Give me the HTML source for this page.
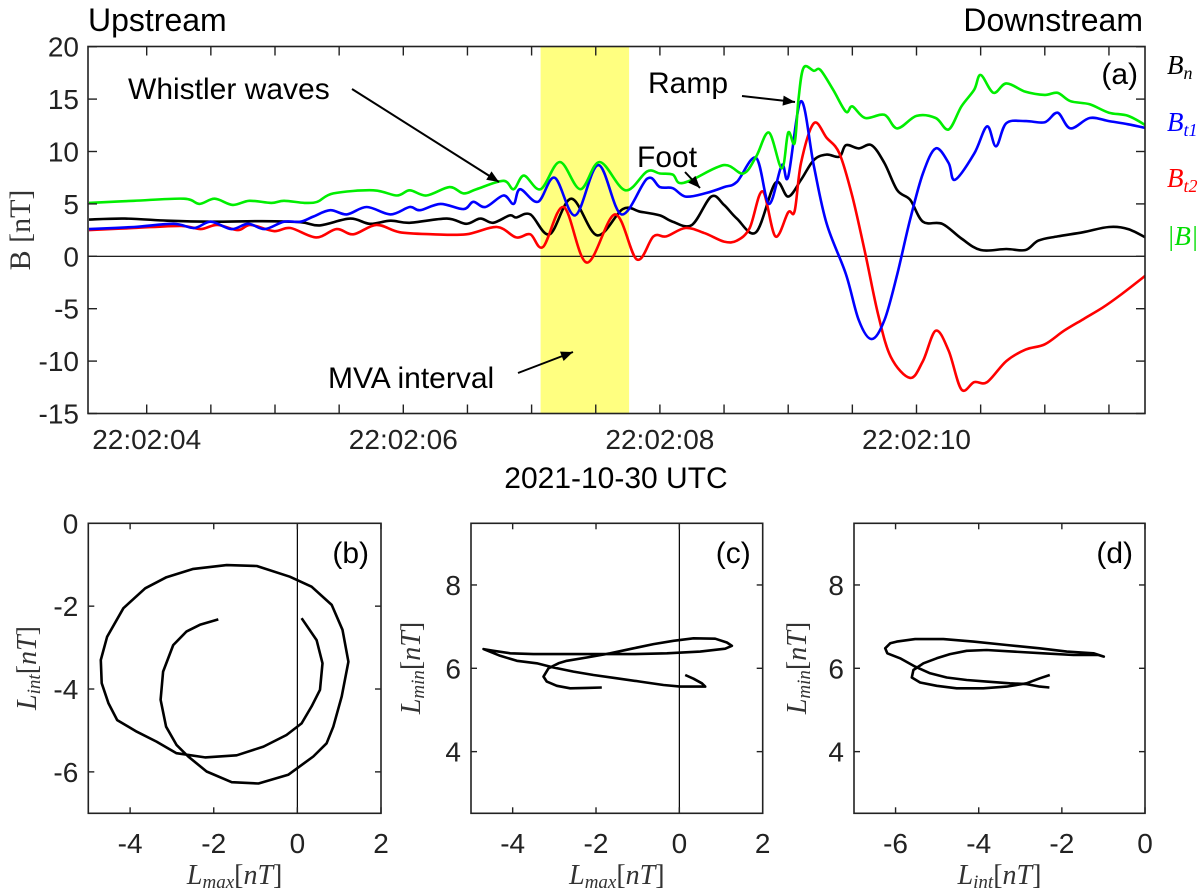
<!DOCTYPE html>
<html><head><meta charset="utf-8"><style>
html,body{margin:0;padding:0;background:#fff;}
svg{display:block;font-family:"Liberation Sans",Arial,sans-serif;}
.tk{font-size:28px;fill:#222;}
.ser{font-family:"Liberation Serif","DejaVu Serif",serif;}
</style></head><body>
<svg id="fig" width="1200" height="888" viewBox="0 0 1200 888" xmlns="http://www.w3.org/2000/svg">
<g id="top"></g>
<g id="pb"></g>
<g id="pc"></g>
<g id="pd"></g>
</svg>
<script>
// ---- Panel (a) data: time in seconds after 22:02:00, values in nT ----
const bnT=[3.55,3.83,4.16,4.5,4.9,5.2,5.35,5.585,5.74,5.9,6.05,6.34,6.49,6.6,6.7,6.83,6.88,6.99,7.14,7.31,7.51,7.71,7.85,8.0,8.1,8.25,8.4,8.5,8.6,8.75,8.9,9.0,9.1,9.2,9.3,9.4,9.45,9.55,9.65,9.75,9.85,9.95,10.05,10.2,10.35,10.5,10.7,10.85,10.95,11.1,11.3,11.5,11.65,11.8];
const bnV=[3.5,3.6,3.4,3.3,3.35,3.25,2.95,3.6,3.1,3.4,3.2,3.6,3.1,3.6,3.2,3.9,3.7,4.0,2.1,5.5,2.0,4.5,4.25,3.9,3.3,3.0,5.7,4.9,3.6,2.3,7.0,5.7,7.3,9.2,9.7,9.5,10.6,10.3,10.6,8.9,6.3,5.4,3.3,3.1,1.7,0.6,0.7,0.6,1.5,1.9,2.3,2.8,2.6,1.7];
const bt1T=[3.55,3.9,4.21,4.37,4.5,4.66,4.79,4.92,5.07,5.2,5.3,5.43,5.56,5.715,5.9,6.05,6.13,6.29,6.47,6.545,6.64,6.78,6.86,6.91,7.05,7.18,7.34,7.52,7.7,7.9,8.0,8.1,8.2,8.35,8.5,8.6,8.75,8.85,8.95,9.0,9.1,9.2,9.3,9.45,9.55,9.65,9.75,9.85,9.95,10.05,10.15,10.25,10.3,10.45,10.55,10.62,10.7,10.85,11.0,11.1,11.2,11.35,11.5,11.65,11.8];
const bt1V=[2.6,2.8,3.1,2.7,3.3,2.6,3.1,2.6,3.3,3.3,3.8,4.4,4.0,4.7,4.0,4.7,4.4,5.0,4.5,5.2,4.7,5.8,5.0,6.4,5.2,7.5,3.9,8.7,4.0,7.4,6.6,6.5,5.7,6.0,6.6,7.1,9.4,5.0,8.7,7.6,14.8,8.6,3.1,-1.7,-6.1,-7.9,-6.1,-1.7,3.5,7.9,10.3,8.9,7.3,9.8,12.4,10.5,12.7,12.9,12.8,13.7,12.2,13.2,12.9,12.6,12.2];
const bt2T=[3.55,3.9,4.27,4.42,4.55,4.71,4.81,4.99,5.12,5.32,5.48,5.61,5.79,5.97,6.23,6.49,6.73,6.88,6.99,7.09,7.25,7.43,7.65,7.82,7.95,8.05,8.2,8.35,8.5,8.6,8.7,8.8,8.9,9.0,9.05,9.1,9.2,9.3,9.4,9.5,9.6,9.7,9.8,9.95,10.05,10.15,10.25,10.35,10.45,10.55,10.7,10.85,11.0,11.15,11.3,11.45,11.6,11.8];
const bt2V=[2.5,2.7,2.9,2.6,3.0,2.5,3.0,2.4,2.7,1.8,2.6,2.1,3.0,2.3,2.1,2.1,2.8,1.8,2.1,0.9,4.7,-0.6,4.0,-0.3,1.9,1.9,2.7,2.2,1.4,1.5,2.7,6.2,1.9,4.2,4.3,8.9,12.7,11.3,9.8,5.7,0.3,-5.5,-9.6,-11.6,-10,-7.1,-9,-12.7,-12.0,-12.0,-10,-8.9,-8.4,-7.1,-6.0,-4.9,-3.6,-1.7];
const bmT=[3.55,3.9,4.29,4.41,4.53,4.67,4.8,4.97,5.07,5.23,5.33,5.455,5.766,5.95,6.05,6.18,6.36,6.47,6.57,6.78,6.86,6.94,7.07,7.22,7.38,7.53,7.73,7.9,8.0,8.1,8.15,8.25,8.5,8.65,8.75,8.85,8.95,9.0,9.05,9.08,9.12,9.2,9.25,9.35,9.45,9.5,9.6,9.75,9.85,10.0,10.15,10.25,10.35,10.45,10.5,10.6,10.7,10.85,11.0,11.1,11.2,11.35,11.5,11.65,11.8];
const bmV=[5.1,5.3,5.5,5.0,5.5,4.9,5.3,5.1,5.3,5.1,5.2,6.0,6.3,5.8,6.3,5.8,6.6,6.0,6.4,7.2,6.4,7.7,6.4,9.0,6.4,9.0,6.3,8.1,7.9,7.8,7.0,7.3,8.7,7.9,9.5,11.8,8.4,11.8,10.8,15,18,17.7,17.8,15.9,13.8,14.3,13.2,13.5,12.2,13.4,13.2,12.1,14.3,15.9,17.3,15.6,16.5,15.7,15.4,15.6,14.8,14.5,13.7,13.4,12.4];
const yTicksA=[20,15,10,5,0,-5,-10,-15];
const xLabelT=[4,6,8,10];
const xLabelTxt=["22:02:04","22:02:06","22:02:08","22:02:10"];
const mvaStart=7.07, mvaEnd=7.76;
// ---- Hodograms ----
const bX=[-1.89,-2.33,-2.65,-2.97,-3.21,-3.27,-3.14,-2.89,-2.61,-2.17,-1.57,-0.93,-0.22,0.38,0.70,0.86,1.06,1.22,1.08,0.82,0.34,-0.18,-0.97,-1.69,-2.49,-3.13,-3.64,-4.16,-4.55,-4.70,-4.68,-4.52,-4.31,-3.84,-3.37,-2.89,-2.21,-1.45,-0.81,-0.26,0.10,0.34,0.54,0.60,0.46,0.10];
const bY=[-2.32,-2.45,-2.61,-2.94,-3.58,-4.26,-4.91,-5.35,-5.63,-5.99,-6.25,-6.28,-6.07,-5.63,-5.31,-4.91,-4.18,-3.34,-2.57,-1.97,-1.53,-1.29,-1.03,-1.01,-1.10,-1.30,-1.57,-2.05,-2.74,-3.30,-3.86,-4.34,-4.75,-5.03,-5.27,-5.55,-5.65,-5.60,-5.39,-5.11,-4.83,-4.42,-4.02,-3.38,-2.82,-2.29];
const cX=[-1.86,-2.22,-2.62,-2.94,-3.18,-3.26,-3.14,-2.90,-2.70,-2.22,-1.66,-1.10,-0.62,-0.14,0.34,0.86,1.14,1.26,1.10,0.50,-0.30,-1.10,-1.90,-2.70,-3.50,-4.06,-4.46,-4.70,-4.30,-3.90,-3.42,-3.02,-2.54,-2.06,-1.50,-0.94,-0.38,0.02,0.34,0.62,0.54,0.34,0.14];
const cY=[5.54,5.53,5.52,5.58,5.68,5.80,6.00,6.12,6.18,6.26,6.36,6.48,6.58,6.66,6.72,6.71,6.62,6.54,6.47,6.40,6.36,6.34,6.34,6.34,6.34,6.36,6.42,6.46,6.30,6.18,6.12,6.02,5.92,5.84,5.76,5.68,5.60,5.56,5.56,5.56,5.64,5.75,5.84];
const dX=[-2.30,-2.53,-2.85,-3.25,-3.81,-4.29,-4.77,-5.17,-5.53,-5.89,-6.20,-6.25,-6.13,-5.97,-5.53,-4.85,-4.13,-3.33,-2.53,-1.88,-1.24,-0.99,-1.12,-1.72,-2.45,-3.17,-3.81,-4.29,-4.69,-5.01,-5.33,-5.57,-5.61,-5.41,-5.01,-4.53,-3.89,-3.33,-2.85,-2.53,-2.29];
const dY=[5.54,5.56,5.62,5.64,5.68,5.72,5.78,5.88,6.04,6.24,6.36,6.48,6.60,6.64,6.70,6.70,6.64,6.56,6.48,6.40,6.36,6.28,6.32,6.32,6.36,6.40,6.44,6.42,6.34,6.24,6.12,5.96,5.78,5.66,5.58,5.52,5.52,5.56,5.64,5.76,5.84];

const NS="http://www.w3.org/2000/svg";
function mk(parent,tag,attrs,text){const e=document.createElementNS(NS,tag);for(const k in attrs)e.setAttribute(k,attrs[k]);if(text!==undefined)e.textContent=text;parent.appendChild(e);return e;}

const A={l:88,r:1145,t:46.5,b:413.5};
const tx=t=>146.7+(t-4)*128.3;
const vy=v=>256.3-v*10.48;
const topG=document.getElementById('top');
const band=mk(topG,'rect',{x:tx(mvaStart),y:A.t,width:tx(mvaEnd)-tx(mvaStart),height:A.b-A.t,fill:'#ffff80'});


const zl=mk(topG,'line',{x1:A.l,x2:A.r,y1:vy(0),y2:vy(0),stroke:'#000','stroke-width':1.2});


function smooth(xs,ys){let d='M'+xs[0].toFixed(1)+','+ys[0].toFixed(1);
 for(let i=0;i<xs.length-1;i++){const i0=Math.max(0,i-1),i3=Math.min(xs.length-1,i+2);
  const c1x=xs[i]+(xs[i+1]-xs[i0])/6,c1y=ys[i]+(ys[i+1]-ys[i0])/6;
  const c2x=xs[i+1]-(xs[i3]-xs[i])/6,c2y=ys[i+1]-(ys[i3]-ys[i])/6;
  d+=' C'+c1x.toFixed(1)+','+c1y.toFixed(1)+' '+c2x.toFixed(1)+','+c2y.toFixed(1)+' '+xs[i+1].toFixed(1)+','+ys[i+1].toFixed(1);}
 return d;}
const seriesList=[[bnT,bnV,'#000','bn-line'],[bt2T,bt2V,'#ff0000','bt2-line'],[bt1T,bt1V,'#0000ff','bt1-line'],[bmT,bmV,'#00ee00','bmag-line']];
const clipEl=mk(topG,'clipPath',{id:'clipA'});mk(clipEl,'rect',{x:A.l,y:A.t,width:A.r-A.l,height:A.b-A.t});
for(const s of seriesList){
 const p=mk(topG,'path',{d:smooth(s[0].map(tx),s[1].map(vy)),fill:'none',stroke:s[2],'stroke-width':2.6,'stroke-linejoin':'round','clip-path':'url(#clipA)'});
 
 
}
const boxA=mk(topG,'rect',{x:A.l,y:A.t,width:A.r-A.l,height:A.b-A.t,fill:'none',stroke:'#222','stroke-width':1.6});


for(const v of yTicksA){
 const y=vy(v);
 mk(topG,'line',{x1:A.l,x2:A.l+9,y1:y,y2:y,stroke:'#222','stroke-width':1.4});
 mk(topG,'line',{x1:A.r,x2:A.r-9,y1:y,y2:y,stroke:'#222','stroke-width':1.4});
 const t=mk(topG,'text',{x:A.l-9,y:y+10,'text-anchor':'end',class:'tk'},String(v));
 
 
}
for(let t=4;t<=11.51;t+=0.5){
 const x=tx(t);
 mk(topG,'line',{x1:x,x2:x,y1:A.b,y2:A.b-9,stroke:'#222','stroke-width':1.4});
 mk(topG,'line',{x1:x,x2:x,y1:A.t,y2:A.t+9,stroke:'#222','stroke-width':1.4});
}
xLabelT.forEach((t,i)=>{
 const e=mk(topG,'text',{x:tx(t),y:449,'text-anchor':'middle',class:'tk'},xLabelTxt[i]);
 
 
});

const fig=document.getElementById('fig');
function T(txt,x,y,size,attrs,name){const e=mk(fig,'text',Object.assign({x:x,y:y,'font-size':size,fill:'#000'},attrs||{}),txt);return e;}
T('Upstream',88,31,32,{},'upstream-label');
T('Downstream',1143,31,32,{'text-anchor':'end'},'downstream-label');
T('2021-10-30 UTC',616,488,30,{'text-anchor':'middle'},'x-axis-title');
T('B [nT]',0,0,30,{class:'ser','text-anchor':'middle',transform:'translate(30,230) rotate(-90)',fill:'#333'},'y-axis-title');
T('(a)',1138,84,30,{'text-anchor':'end'},'panel-label-a');
T('Whistler waves',128,99,30,{},'whistler-annotation');
T('Foot',637,167,30,{},'foot-annotation');
T('Ramp',648,93,30,{},'ramp-annotation');
T('MVA interval',328,388,30,{},'mva-annotation');
function arrow(x1,y1,x2,y2,name){const g=mk(fig,'g',{});
 mk(g,'line',{x1:x1,y1:y1,x2:x2,y2:y2,stroke:'#000','stroke-width':2});
 const a=Math.atan2(y2-y1,x2-x1),L=12,W=5;
 const bx=x2-L*Math.cos(a),by=y2-L*Math.sin(a);
 mk(g,'polygon',{points:`${x2},${y2} ${bx+W*Math.sin(a)},${by-W*Math.cos(a)} ${bx-W*Math.sin(a)},${by+W*Math.cos(a)}`,fill:'#000'});}
arrow(352,89,499,182,'whistler-arrow');
arrow(685,172,700,188,'foot-arrow');
arrow(742,96,795,102,'ramp-arrow');
arrow(518,373,573,352,'mva-arrow');
function leg(main,sub,y,color,name){const e=mk(fig,'text',{x:1167,y:y,'font-size':27,fill:color,class:'ser','font-style':'italic'});
 
 mk(e,'tspan',{},main);if(sub){mk(e,'tspan',{'font-size':18,dy:5},sub);}}
leg('B','n',74,'#000','legend-bn');
leg('B','t1',131,'#0000ff','legend-bt1');
leg('B','t2',187,'#ff0000','legend-bt2');
leg('|B|','',245,'#00dd00','legend-bmag');

function hodo(gid,left,right,xmin,xmax,ymin,ymax,xt,yt,xs,ys,vline,lab,xlab,xsub,ylab,ysub,ylx){
 const g=document.getElementById(gid);const T0=523.3,B0=813.3;
 const sx=v=>left+(v-xmin)/(xmax-xmin)*(right-left);
 const sy=v=>B0-(v-ymin)/(ymax-ymin)*(B0-T0);
 if(vline){const l=mk(g,'line',{x1:sx(0),x2:sx(0),y1:T0,y2:B0,stroke:'#000','stroke-width':1.2});}
 const pts=xs.map((v,i)=>sx(v).toFixed(1)+','+sy(ys[i]).toFixed(1)).join(' ');
 const pl=mk(g,'polyline',{points:pts,fill:'none',stroke:'#000','stroke-width':2.6,'stroke-linejoin':'round'});
 
 
 const bx=mk(g,'rect',{x:left,y:T0,width:right-left,height:B0-T0,fill:'none',stroke:'#222','stroke-width':1.6});
 
 
 for(const v of xt){const x=sx(v);
  mk(g,'line',{x1:x,x2:x,y1:B0,y2:B0-6,stroke:'#222','stroke-width':1.4});
  mk(g,'line',{x1:x,x2:x,y1:T0,y2:T0+6,stroke:'#222','stroke-width':1.4});
  const e=mk(g,'text',{x:x,y:853,'text-anchor':'middle',class:'tk'},String(v));
  
  }
 for(const v of yt){const y=sy(v);
  mk(g,'line',{x1:left,x2:left+6,y1:y,y2:y,stroke:'#222','stroke-width':1.4});
  mk(g,'line',{x1:right,x2:right-6,y1:y,y2:y,stroke:'#222','stroke-width':1.4});
  const e=mk(g,'text',{x:left-10,y:y+10,'text-anchor':'end',class:'tk'},String(v));
  
  }
 const pl2=mk(g,'text',{x:right-12,y:563,'text-anchor':'end','font-size':30},lab);
 
 
 const xl=mk(g,'text',{x:(left+right)/2,y:884,'text-anchor':'middle','font-size':28,class:'ser','font-style':'italic',fill:'#333'});
 
 
 mk(xl,'tspan',{},xlab);mk(xl,'tspan',{'font-size':19,dy:4},xsub);mk(xl,'tspan',{dy:-4,'font-style':'normal'},'[');mk(xl,'tspan',{},'nT');mk(xl,'tspan',{'font-style':'normal'},']');
 const yl2=mk(g,'text',{x:0,y:0,'text-anchor':'middle','font-size':28,class:'ser','font-style':'italic',fill:'#333',transform:`translate(${ylx},668) rotate(-90)`});
 
 
 mk(yl2,'tspan',{},ylab);mk(yl2,'tspan',{'font-size':19,dy:4},ysub);mk(yl2,'tspan',{dy:-4,'font-style':'normal'},'[');mk(yl2,'tspan',{},'nT');mk(yl2,'tspan',{'font-style':'normal'},']');
}
hodo('pb',88.3,381,-5,2,-7,0,[-4,-2,0,2],[0,-2,-4,-6],bX,bY,true,'(b)','L','max','L','int',36);
hodo('pc',471,762.7,-5,2,2.52,9.48,[-4,-2,0,2],[8,6,4],cX,cY,true,'(c)','L','max','L','min',420);
hodo('pd',854,1145,-7,0,2.52,9.48,[-6,-4,-2,0],[8,6,4],dX,dY,false,'(d)','L','int','L','min',806);
</script>
</body></html>
